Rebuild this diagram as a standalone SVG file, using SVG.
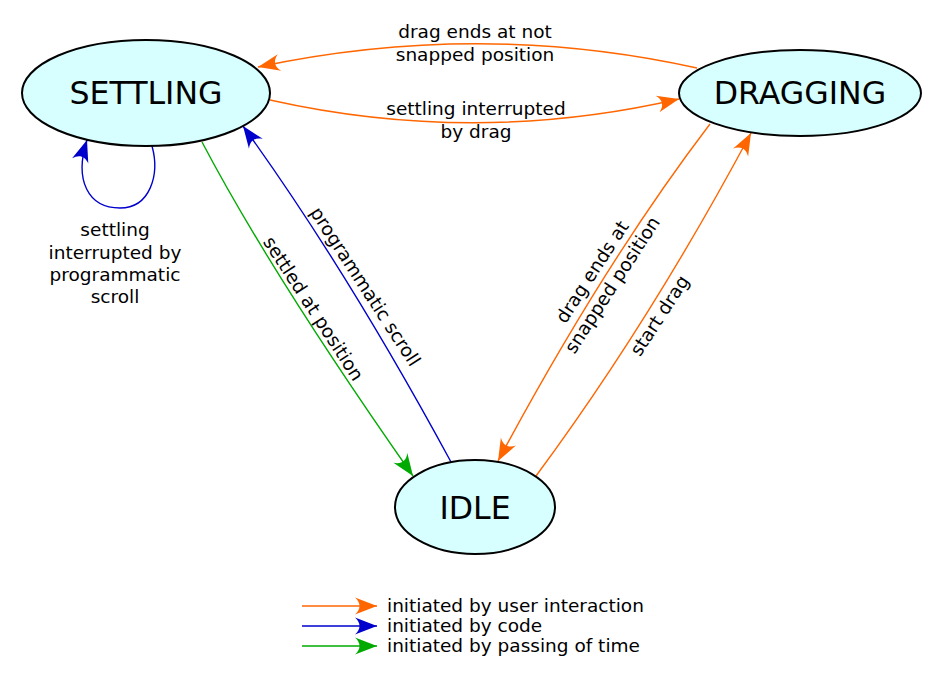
<svg xmlns="http://www.w3.org/2000/svg" width="945" height="680" viewBox="0 0 945 680">
<style>
  .node ellipse { fill: #d7ffff; stroke: #000; stroke-width: 2; }
  .node text { font-family: "DejaVu Sans", sans-serif; font-size: 31.6px; text-anchor: middle; fill: #000; }
  .lbl { font-family: "DejaVu Sans", sans-serif; font-size: 18.5px; text-anchor: middle; fill: #000; }
  .leg { font-family: "DejaVu Sans", sans-serif; font-size: 18.5px; fill: #000; }
  .e { fill: none; stroke-width: 1.4; }
  .user { stroke: #ff6600; marker-end: url(#aU); }
  .code { stroke: #0000cc; marker-end: url(#aC); }
  .time { stroke: #00aa00; marker-end: url(#aT); }
</style>
<defs>
  <marker id="aU" markerUnits="userSpaceOnUse" orient="auto" refX="0" refY="0" markerWidth="30" markerHeight="30" viewBox="-25 -10 30 20" overflow="visible">
    <path d="M0,0 L-22,-8.5 C-16,-3 -16,3 -22,8.5 Z" fill="#ff6600"/>
  </marker>
  <marker id="aC" markerUnits="userSpaceOnUse" orient="auto" refX="0" refY="0" markerWidth="30" markerHeight="30" viewBox="-25 -10 30 20" overflow="visible">
    <path d="M0,0 L-22,-8.5 C-16,-3 -16,3 -22,8.5 Z" fill="#0000cc"/>
  </marker>
  <marker id="aT" markerUnits="userSpaceOnUse" orient="auto" refX="0" refY="0" markerWidth="30" markerHeight="30" viewBox="-25 -10 30 20" overflow="visible">
    <path d="M0,0 L-22,-8.5 C-16,-3 -16,3 -22,8.5 Z" fill="#00aa00"/>
  </marker>
</defs>

<g id="connectors">
  <path class="e user" d="M697,68 Q480,20 258,67"/>
  <path class="e user" d="M270,100 Q475,146 679,99"/>
  <path class="e code" d="M152,146 C160,175 150,208 120,208 C88,208 74,180 87,140"/>
  <path class="e time" d="M202,142 Q272,275 413,476"/>
  <path class="e code" d="M451,462 Q347,270 243,126"/>
  <path class="e user" d="M710,124 Q604,263 498,461"/>
  <path class="e user" d="M536,476 Q650,322 751,133"/>

  <text class="lbl" x="475" y="38">drag ends at not</text>
  <text class="lbl" x="475" y="61">snapped position</text>
  <text class="lbl" x="476" y="115">settling interrupted</text>
  <text class="lbl" x="476" y="138">by drag</text>
  <text class="lbl" x="115" y="236">settling</text>
  <text class="lbl" x="115" y="259">interrupted by</text>
  <text class="lbl" x="115" y="281">programmatic</text>
  <text class="lbl" x="115" y="303">scroll</text>
  <text class="lbl" transform="translate(308,312) rotate(57)">settled at position</text>
  <text class="lbl" transform="translate(360,290) rotate(57)">programmatic scroll</text>
  <g transform="translate(602.5,278.5) rotate(-57)">
    <text class="lbl" x="0" y="-6">drag ends at</text>
    <text class="lbl" x="0" y="18">snapped position</text>
  </g>
  <text class="lbl" transform="translate(665,319) rotate(-57)">start drag</text>
</g>

<g id="settling" class="node">
  <ellipse cx="146" cy="93" rx="124" ry="53"/>
  <text x="146" y="104">SETTLING</text>
</g>
<g id="dragging" class="node">
  <ellipse cx="800" cy="93" rx="121" ry="43"/>
  <text x="800" y="104">DRAGGING</text>
</g>
<g id="idle" class="node">
  <ellipse cx="475" cy="507" rx="80" ry="47"/>
  <text x="475" y="519">IDLE</text>
</g>

<g id="legend">
  <path class="e user" d="M302,606 L377,606"/>
  <path class="e code" d="M302,626 L377,626"/>
  <path class="e time" d="M302,646 L377,646"/>
  <text class="leg" x="387" y="612">initiated by user interaction</text>
  <text class="leg" x="387" y="632">initiated by code</text>
  <text class="leg" x="387" y="652">initiated by passing of time</text>
</g>
</svg>
